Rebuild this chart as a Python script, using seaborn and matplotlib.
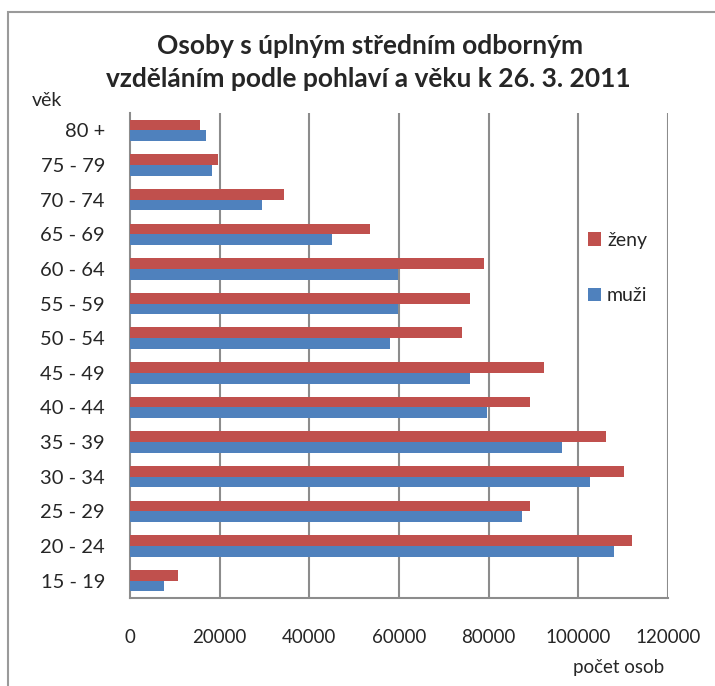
import numpy as np
import pandas as pd
import matplotlib
matplotlib.use("Agg")
import matplotlib.pyplot as plt
import seaborn as sns
from matplotlib.patches import Rectangle

# data (top to bottom)
vek = ["80 +", "75 - 79", "70 - 74", "65 - 69", "60 - 64", "55 - 59", "50 - 54",
       "45 - 49", "40 - 44", "35 - 39", "30 - 34", "25 - 29", "20 - 24", "15 - 19"]
zeny = [15600, 19700, 34400, 53600, 79000, 75900, 74100,
        92400, 89300, 106200, 110200, 89300, 112000, 10800]
muzi = [16950, 18400, 29500, 45100, 59800, 59800, 58000,
        75900, 79700, 96400, 102600, 87500, 108000, 7600]
serie = ["ženy", "muži"]
barvy = ["#C0504D", "#4F81BD"]
x_ticks = [0, 20000, 40000, 60000, 80000, 100000, 120000]

df = pd.DataFrame({
    "vek": vek * 2,
    "pocet": zeny + muzi,
    "pohlavi": ["ženy"] * len(vek) + ["muži"] * len(vek),
})

sns.set_style("white")
plt.rcParams["font.family"] = ["Lato", "DejaVu Sans"]
grid_col = "#8c8c8c"

fig = plt.figure(figsize=(7.15, 6.86), dpi=100)
W, H = 715, 686
ax = fig.add_axes([130 / W, 1 - 598 / H, (668 - 130) / W, (598 - 113) / H])

sns.barplot(data=df, y="vek", x="pocet", hue="pohlavi", order=vek,
            hue_order=serie, palette=barvy, orient="h", width=0.62,
            saturation=1, linewidth=0, ax=ax, zorder=3)

ax.set_xlim(0, 120000)
ax.set_ylim(len(vek) - 0.5, -0.5)
ax.set_xticks(x_ticks)
ax.set_xticklabels([str(v) for v in x_ticks], fontsize=13.5)
ax.set_yticklabels(vek, fontsize=14.5)
ax.set_xlabel("")
ax.set_ylabel("")

# gridlines
for v in x_ticks[1:]:
    ax.axvline(v, color=grid_col, lw=1.5, zorder=1)

for s in ["top", "right"]:
    ax.spines[s].set_visible(False)
for s in ["left", "bottom"]:
    ax.spines[s].set_color(grid_col)
    ax.spines[s].set_linewidth(1.5)

ax.tick_params(axis="y", which="major", length=0, pad=18)
ax.set_yticks(np.arange(len(vek) + 1) - 0.5, minor=True)
ax.tick_params(axis="y", which="minor", length=8, width=1.5, color=grid_col, direction="out")
ax.tick_params(axis="x", which="major", length=6, width=1.5, color=grid_col,
               direction="out", pad=16)

# legend
ax.legend(loc="center left", bbox_to_anchor=(570 / W, 1 - 268 / H),
          bbox_transform=fig.transFigure, frameon=False, fontsize=14,
          handlelength=0.7, handleheight=0.7, handletextpad=0.3, labelspacing=2.0)

fig.text(370 / W, 1 - 46 / H, "Osoby s úplným středním odborným", ha="center",
         va="center", fontsize=19, fontweight="bold")
fig.text(368 / W, 1 - 79 / H, "vzděláním podle pohlaví a věku k 26. 3. 2011", ha="center",
         va="center", fontsize=19, fontweight="bold")
fig.text(32 / W, 1 - 100 / H, "věk", ha="left", va="center", fontsize=14)
fig.text(619 / W, 1 - 667 / H, "počet osob", ha="center", va="center", fontsize=13.5)

# outer chart border
fig.patches.append(Rectangle((8 / W, -0.05), 1.1, 1 - 12 / H + 0.05,
                             transform=fig.transFigure, fill=False,
                             edgecolor="#9a9a9a", lw=1.5))

fig.savefig("out.png", dpi=100)
